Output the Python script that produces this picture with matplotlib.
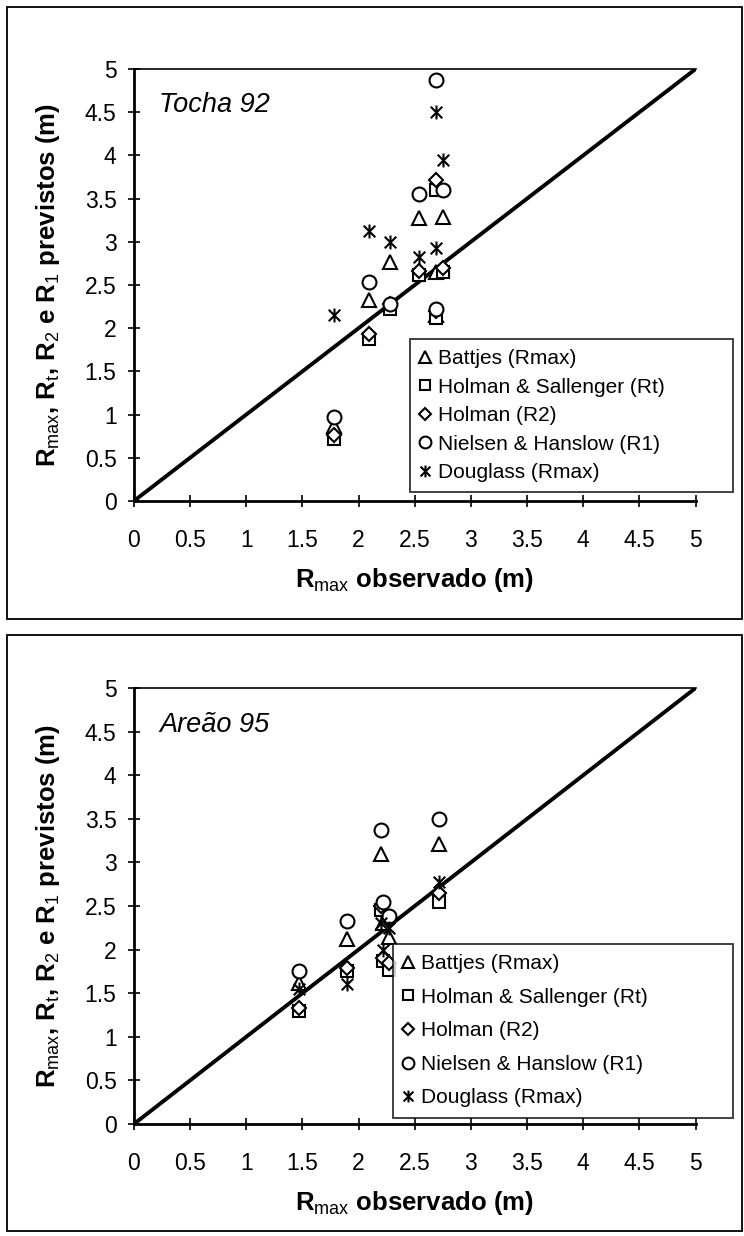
import numpy as np
import matplotlib
matplotlib.use('Agg')
import matplotlib.pyplot as plt
from matplotlib.path import Path
from matplotlib.patches import Rectangle

plt.rcParams['font.family'] = ['Liberation Sans', 'DejaVu Sans']
plt.rcParams['mathtext.fontset'] = 'custom'
plt.rcParams['mathtext.rm'] = 'Liberation Sans'
plt.rcParams['mathtext.bf'] = 'Liberation Sans:bold'
plt.rcParams['mathtext.it'] = 'Liberation Sans:italic'

# Tocha 92 - observed Rmax and predictions of each formula
tocha_obs = [1.78, 2.09, 2.28, 2.54, 2.69, 2.69, 2.75]
tocha_battjes = [0.87, 2.33, 2.77, 3.27, 2.65, 2.15, 3.29]
tocha_holman_sall = [0.72, 1.87, 2.22, 2.62, 2.12, 3.6, 2.65]
tocha_holman = [0.76, 1.93, 2.28, 2.66, 2.2, 3.72, 2.7]
tocha_nielsen = [0.97, 2.54, 2.28, 3.55, 2.22, 4.87, 3.6]
tocha_douglass = [2.15, 3.12, 3.0, 2.82, 2.93, 4.5, 3.95]

# Areao 95
areao_obs = [1.47, 1.9, 2.2, 2.22, 2.27, 2.72]
areao_battjes = [1.62, 2.12, 3.1, 2.3, 2.15, 3.21]
areao_holman_sall = [1.3, 1.75, 2.45, 1.87, 1.77, 2.55]
areao_holman = [1.33, 1.79, 2.5, 1.9, 1.85, 2.65]
areao_nielsen = [1.75, 2.33, 3.37, 2.55, 2.38, 3.5]
areao_douglass = [1.55, 1.6, 2.3, 2.0, 2.25, 2.77]

legend_labels = ['Battjes (Rmax)', 'Holman & Sallenger (Rt)', 'Holman (R2)',
                 'Nielsen & Hanslow (R1)', 'Douglass (Rmax)']
ticks = np.arange(0, 5.01, 0.5)
tick_labels = ['0', '0.5', '1', '1.5', '2', '2.5', '3', '3.5', '4', '4.5', '5']

# asterisk marker like the Excel one
star = Path([(-1, -1), (1, 1), (-1, 1), (1, -1), (0, -1.2), (0, 1.2)],
            [Path.MOVETO, Path.LINETO, Path.MOVETO, Path.LINETO, Path.MOVETO, Path.LINETO])
markers = ['^', 's', 'D', 'o', star]
sizes = [9.5, 9, 7, 10, 10]

fig = plt.figure(figsize=(7.44, 12.36), dpi=100)

# panel frames
fig.add_artist(Rectangle((0.0094, 0.499), 0.988, 0.495, transform=fig.transFigure,
                         fill=False, lw=1.3, ec='black'))
fig.add_artist(Rectangle((0.0094, 0.004), 0.988, 0.482, transform=fig.transFigure,
                         fill=False, lw=1.3, ec='black'))


def panel(ax, obs, series, title, leg_box, spacing):
    ax.plot([0, 5], [0, 5], color='black', lw=2.8, zorder=1)
    for ys, m, s, lab in zip(series, markers, sizes, legend_labels):
        ax.plot(obs, ys, linestyle='none', marker=m, ms=s, mfc='white', mec='black',
                mew=1.5, label=lab, zorder=3)
    ax.set_xlim(0, 5)
    ax.set_ylim(0, 5)
    ax.set_xticks(ticks)
    ax.set_yticks(ticks)
    ax.set_xticklabels(tick_labels)
    ax.set_yticklabels(tick_labels)
    ax.tick_params(direction='inout', length=9, width=1.2, labelsize=16.5)
    ax.tick_params(axis='x', pad=16)
    ax.tick_params(axis='y', pad=8)
    ax.spines['right'].set_visible(False)
    ax.spines['left'].set_linewidth(2)
    ax.spines['bottom'].set_linewidth(2)
    ax.spines['top'].set_linewidth(1.2)
    ax.text(0.045, 0.9, title, transform=ax.transAxes, fontsize=19.5, style='italic')
    ax.set_xlabel(r'$\mathbf{R}_{\mathrm{max}}$ observado (m)', fontsize=18.5,
                  fontweight='bold', labelpad=10)
    ax.set_ylabel(r'$\mathbf{R}_{\mathrm{max}}$, $\mathbf{R}_{\mathrm{t}}$, '
                  r'$\mathbf{R}_{\mathrm{2}}$ e $\mathbf{R}_{\mathrm{1}}$ previstos (m)',
                  fontsize=18.5, fontweight='bold', labelpad=16)
    leg = ax.legend(loc='lower left', bbox_to_anchor=leg_box, mode='expand',
                    fontsize=15, frameon=True, fancybox=False, edgecolor='black',
                    handlelength=0.5, handletextpad=0.35, borderpad=0.5,
                    labelspacing=spacing, markerscale=0.85, borderaxespad=0)
    leg.get_frame().set_linewidth(1.3)
    leg.set_zorder(5)


ax1 = fig.add_axes([0.180, 0.5947, 0.755, 0.3495])
panel(ax1, tocha_obs,
      [tocha_battjes, tocha_holman_sall, tocha_holman, tocha_nielsen, tocha_douglass],
      'Tocha 92', (0.491, 0.02, 0.575, 0.36), 0.45)

ax2 = fig.add_axes([0.180, 0.0906, 0.755, 0.3528])
panel(ax2, areao_obs,
      [areao_battjes, areao_holman_sall, areao_holman, areao_nielsen, areao_douglass],
      'Areão 95', (0.461, 0.014, 0.605, 0.40), 0.7)

fig.savefig('out.png', dpi=100)
